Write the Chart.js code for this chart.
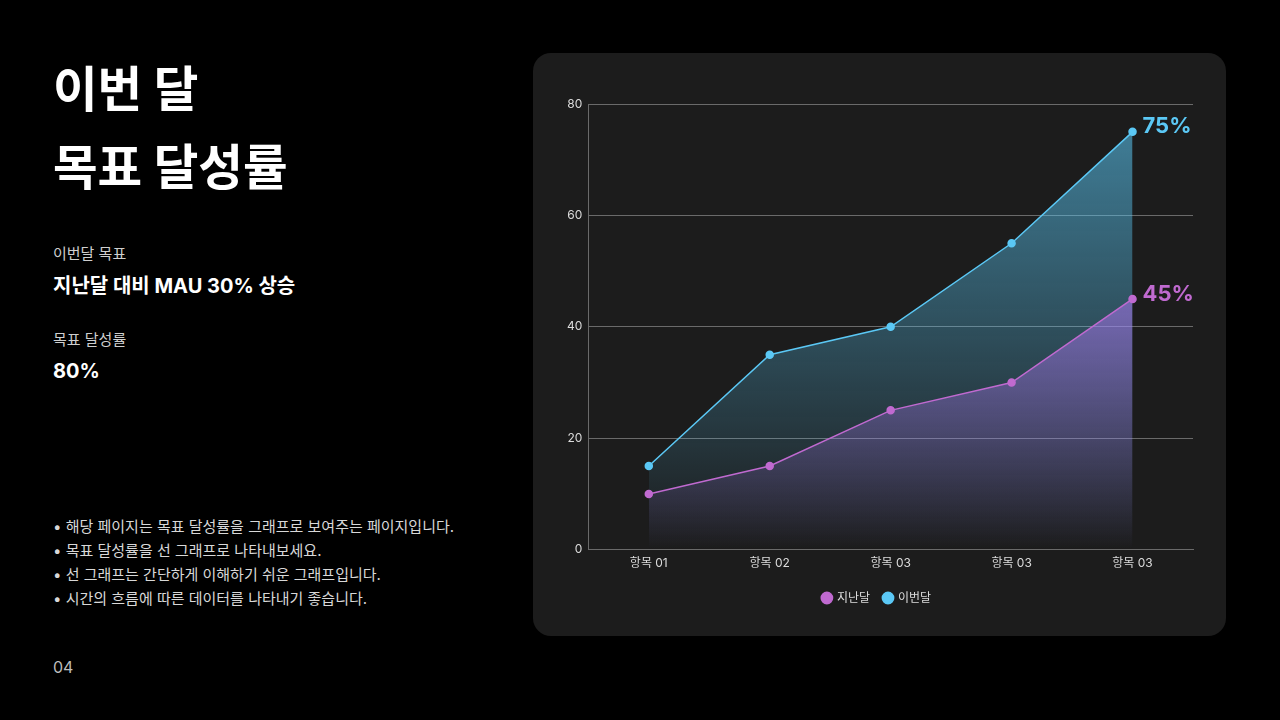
<!DOCTYPE html>
<html lang="ko">
<head>
<meta charset="utf-8">
<script src="https://cdn.jsdelivr.net/npm/chart.js@4"></script>
<style>
  html,body{margin:0;padding:0;background:#000;width:1280px;height:720px;overflow:hidden;}
  body{font-family:"Inter","Noto Sans CJK KR",sans-serif;color:#fff;position:relative;}
  .t{position:absolute;left:53px;white-space:nowrap;}
  .title{top:51px;font-size:48.5px;font-weight:700;line-height:78px;}
  .lbl{font-size:15px;color:#cfcfcf;line-height:20px;}
  .val{font-size:20px;font-weight:700;line-height:26px;}
  .bul{top:515px;font-size:15px;color:#d8d8d8;line-height:24px;}
  .pg{top:656px;font-size:16px;color:#bdbdbd;line-height:22px;}
  .card{position:absolute;left:533px;top:53px;width:693px;height:583px;background:#1c1c1c;border-radius:18px;}
  .card canvas{position:absolute;left:0;top:0;}
</style>
</head>
<body>
<div class="t title">이번 달<br>목표 달성률</div>
<div class="t lbl" style="top:244px">이번달 목표</div>
<div class="t val" style="top:273px">지난달 대비 MAU 30% 상승</div>
<div class="t lbl" style="top:330px">목표 달성률</div>
<div class="t val" style="top:358px">80%</div>
<div class="t bul">• 해당 페이지는 목표 달성률을 그래프로 보여주는 페이지입니다.<br>• 목표 달성률을 선 그래프로 나타내보세요.<br>• 선 그래프는 간단하게 이해하기 쉬운 그래프입니다.<br>• 시간의 흐름에 따른 데이터를 나타내기 좋습니다.</div>
<div class="t pg">04</div>
<div class="card"><canvas id="c" width="693" height="583"></canvas></div>
<script>
const categories = ["항목 01","항목 02","항목 03","항목 03","항목 03"];
const lastMonth = [10,15,25,30,45];
const thisMonth = [15,35,40,55,75];
const seriesNames = ["지난달","이번달"];
const yTicks = [0,20,40,60,80];

const purple = "#c06ad0";
const blue = "#5bc8f5";

function grad(ctx, chartArea, r, g, b, a0) {
  const gr = ctx.createLinearGradient(0, chartArea.top, 0, chartArea.bottom);
  gr.addColorStop(0, `rgba(${r},${g},${b},${a0})`);
  gr.addColorStop(1, `rgba(${r},${g},${b},0)`);
  return gr;
}

const endLabels = {
  id: "endLabels",
  afterDatasetsDraw(chart) {
    const ctx = chart.ctx;
    ctx.save();
    ctx.font = "700 22px Inter, 'Noto Sans CJK KR', sans-serif";
    ctx.textAlign = "left";
    ctx.textBaseline = "middle";
    chart.data.datasets.forEach((ds, i) => {
      const meta = chart.getDatasetMeta(i);
      const n = ds.data.length - 1;
      const pt = meta.data[n];
      ctx.fillStyle = ds.borderColor;
      ctx.fillText(ds.data[n] + "%", pt.x + 10, pt.y - 5);
    });
    ctx.restore();
  }
};

Chart.defaults.font.family = "Inter, 'Noto Sans CJK KR', sans-serif";

new Chart(document.getElementById("c"), {
  type: "line",
  data: {
    labels: categories,
    datasets: [
      {
        label: seriesNames[0],
        data: lastMonth,
        borderColor: purple,
        pointBackgroundColor: purple,
        pointBorderColor: purple,
        borderWidth: 1.5,
        pointRadius: 3.5,
        fill: "origin",
        backgroundColor: (c) => c.chart.chartArea ? grad(c.chart.ctx, c.chart.chartArea, 172, 118, 240, 1.0) : "transparent",
        tension: 0
      },
      {
        label: seriesNames[1],
        data: thisMonth,
        borderColor: blue,
        pointBackgroundColor: blue,
        pointBorderColor: blue,
        borderWidth: 1.5,
        pointRadius: 3.5,
        fill: "origin",
        backgroundColor: (c) => c.chart.chartArea ? grad(c.chart.ctx, c.chart.chartArea, 91, 200, 245, 0.6) : "transparent",
        tension: 0
      }
    ]
  },
  options: {
    responsive: false,
    animation: false,
    layout: { padding: { left: 28, right: 33, top: 51, bottom: 22 } },
    scales: {
      x: {
        offset: true,
        grid: { display: false, drawTicks: false },
        border: { display: true, color: "#6a6a6a", width: 1 },
        ticks: { color: "#dcdcdc", font: { size: 12 }, padding: 7 }
      },
      y: {
        min: 0, max: 80,
        afterBuildTicks(axis) { axis.ticks = yTicks.map(v => ({ value: v })); },
        grid: { color: "#6a6a6a", lineWidth: 1, drawTicks: false },
        border: { display: true, color: "#6a6a6a", width: 1 },
        ticks: { color: "#dcdcdc", font: { size: 12 }, padding: 6 }
      }
    },
    plugins: {
      legend: {
        position: "bottom",
        labels: {
          color: "#dcdcdc",
          font: { size: 12 },
          usePointStyle: true,
          pointStyle: "circle",
          boxWidth: 8,
          boxHeight: 8,
          padding: 14
        }
      },
      tooltip: { enabled: false }
    }
  },
  plugins: [endLabels]
});
</script>
</body>
</html>
